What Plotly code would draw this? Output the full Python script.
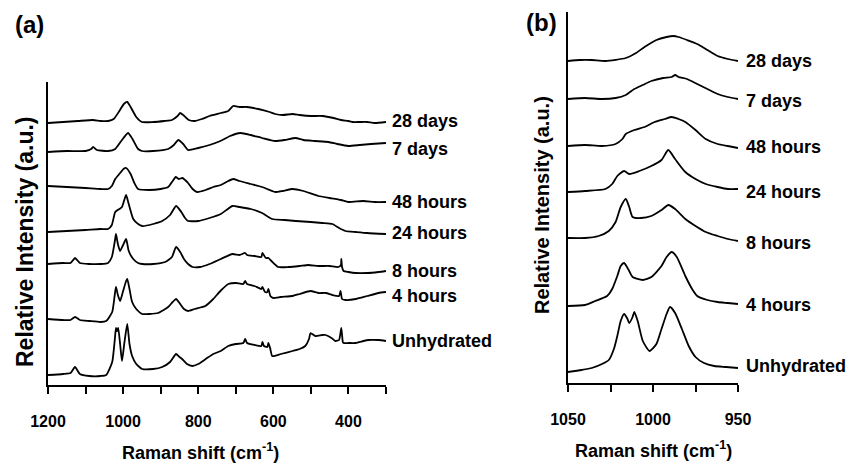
import plotly.graph_objects as go

# ---------------- Panel (a) : Raman shift 1200-300 cm-1 ----------------
a_28d_x = [1200, 1160, 1120, 1080, 1060, 1040, 1025, 1010, 998, 989, 980, 965, 950, 920, 890, 870, 855, 848, 840, 825, 810, 790, 770, 740, 720, 707, 690, 670, 640, 610, 595, 575, 549, 530, 500, 469, 440, 420, 400, 389, 370, 350, 330, 300]
a_28d_y = [262, 263, 264, 265, 264, 264, 266, 274, 281, 283, 278, 268, 263, 263, 264, 265, 269, 272, 270, 265, 264, 266, 269, 272, 274, 279, 278, 278, 276, 273, 271, 270, 271, 270, 269, 269, 267, 265, 264, 263, 263, 263, 262, 263]

a_7d_x = [1200, 1150, 1100, 1085, 1080, 1070, 1040, 1021, 1005, 987, 975, 960, 950, 920, 880, 865, 853, 840, 827, 800, 770, 741, 715, 688, 660, 630, 595, 570, 541, 520, 490, 453, 430, 400, 370, 340, 300]
a_7d_y = [233, 234, 234, 236, 238, 235, 234, 236, 244, 252, 246, 236, 234, 234, 236, 240, 245, 241, 235, 237, 240, 244, 249, 252, 250, 247, 244, 245, 247, 245, 244, 243, 241, 239, 240, 241, 242]

a_48h_x = [1200, 1150, 1100, 1060, 1040, 1030, 1021, 1010, 999, 992, 980, 970, 960, 930, 900, 880, 868, 860, 852, 842, 835, 827, 815, 803, 780, 760, 740, 720, 707, 690, 660, 630, 595, 575, 549, 520, 480, 450, 420, 400, 360, 330, 300]
a_48h_y = [199, 198, 197, 196, 196, 199, 206, 211, 216, 217, 211, 202, 196, 195, 196, 198, 204, 208, 206, 207, 205, 202, 196, 193, 195, 198, 200, 204, 206, 204, 201, 198, 193, 194, 196, 194, 189, 187, 185, 183, 184, 183, 183]

a_24h_x = [1200, 1150, 1100, 1060, 1040, 1030, 1021, 1010, 1003, 996, 992, 985, 973, 960, 949, 920, 896, 875, 859, 845, 835, 827, 800, 770, 740, 725, 709, 690, 660, 630, 603, 570, 540, 500, 470, 443, 425, 408, 380, 350, 300]
a_24h_y = [153, 154, 155, 156, 156, 160, 173, 176, 178, 186, 190, 181, 166, 161, 159, 161, 164, 170, 179, 173, 167, 164, 164, 167, 171, 175, 179, 178, 176, 172, 166, 165, 164, 163, 162, 161, 157, 154, 153, 152, 151]

a_8h_x = [1200, 1160, 1140, 1128, 1115, 1090, 1060, 1040, 1030, 1022, 1019, 1014, 1008, 1000, 992, 985, 973, 960, 949, 920, 888, 870, 859, 848, 838, 827, 815, 795, 770, 740, 709, 690, 675, 670, 650, 632, 629, 620, 613, 605, 587, 560, 530, 507, 480, 450, 427, 420, 419, 417, 413, 400, 381, 350, 320, 300]
a_8h_y = [121, 122, 122, 127, 122, 121, 121, 122, 128, 144, 151, 141, 134, 140, 146, 134, 126, 122, 121, 121, 123, 128, 138, 133, 126, 121, 118, 118, 121, 126, 131, 130, 132, 130, 129, 128, 132, 127, 127, 124, 118, 118, 119, 120, 119, 119, 118, 120, 126, 118, 114, 113, 112, 112, 113, 114]

a_4h_x = [1200, 1160, 1140, 1128, 1115, 1090, 1060, 1045, 1029, 1022, 1019, 1014, 1008, 1000, 992, 989, 983, 976, 965, 949, 930, 907, 880, 868, 859, 848, 838, 827, 810, 781, 760, 741, 720, 700, 680, 675, 670, 650, 632, 629, 622, 616, 613, 608, 600, 580, 549, 530, 501, 480, 460, 443, 425, 421, 417, 408, 380, 350, 320, 300]
a_4h_y = [66, 65, 65, 68, 65, 64, 63, 64, 73, 91, 98, 90, 84, 94, 104, 106, 96, 83, 76, 71, 71, 72, 78, 83, 86, 81, 76, 74, 76, 79, 86, 94, 101, 102, 101, 104, 101, 99, 96, 98, 93, 93, 96, 89, 87, 88, 89, 91, 94, 92, 92, 90, 89, 94, 86, 85, 86, 89, 92, 93]

a_un_x = [1200, 1160, 1140, 1128, 1115, 1090, 1060, 1045, 1029, 1022, 1019, 1016, 1013, 1008, 1003, 997, 989, 983, 976, 965, 949, 920, 896, 875, 859, 850, 843, 830, 816, 800, 780, 760, 740, 720, 700, 680, 675, 670, 650, 632, 629, 625, 616, 613, 608, 603, 580, 549, 530, 515, 505, 501, 488, 470, 461, 445, 435, 425, 419, 415, 413, 400, 381, 360, 347, 320, 300]
a_un_y = [10, 11, 12, 18, 11, 9, 9, 10, 23, 46, 57, 54, 57, 41, 24, 41, 61, 41, 29, 21, 16, 16, 18, 23, 31, 28, 26, 21, 19, 21, 26, 31, 34, 39, 41, 42, 46, 42, 40, 39, 43, 39, 38, 42, 36, 29, 31, 34, 36, 39, 46, 52, 49, 50, 50, 47, 44, 45, 57, 43, 42, 42, 42, 44, 45, 45, 44]

# ---------------- Panel (b) : Raman shift 1050-950 cm-1 ----------------
b_28d_x = [1050, 1043, 1036, 1028, 1016, 1010, 1005, 998, 992, 988, 985, 980, 974, 968, 962, 956, 950]
b_28d_y = [322, 323, 323, 322, 325, 330, 336, 343, 346, 347, 346, 343, 339, 333, 327, 324, 322]

b_7d_x = [1050, 1040, 1030, 1022, 1016, 1011, 1006, 1001, 994, 989, 987, 985, 980, 974, 968, 962, 956, 950]
b_7d_y = [284, 285, 284, 285, 288, 294, 298, 302, 305, 306, 308, 306, 304, 299, 294, 289, 286, 284]

b_48h_x = [1050, 1040, 1030, 1022, 1018, 1016, 1011, 1005, 999, 993, 989, 985, 981, 975, 969, 962, 956, 950]
b_48h_y = [237, 238, 237, 239, 244, 249, 253, 256, 261, 264, 266, 264, 261, 253, 244, 239, 237, 235]

b_24h_x = [1050, 1040, 1028, 1024, 1021, 1017, 1014, 1008, 1001, 995, 991, 987, 981, 975, 969, 962, 956, 950]
b_24h_y = [191, 192, 194, 199, 207, 212, 209, 212, 217, 223, 233, 224, 211, 204, 199, 196, 194, 194]

b_8h_x = [1050, 1040, 1032, 1026, 1022, 1019, 1016, 1014, 1012, 1007, 1001, 995, 991, 987, 981, 975, 969, 962, 956, 950]
b_8h_y = [145, 145, 147, 152, 161, 176, 184, 176, 166, 165, 167, 173, 178, 174, 164, 157, 151, 147, 144, 142]

b_4h_x = [1050, 1040, 1034, 1027, 1024, 1021, 1019, 1017, 1014, 1012, 1006, 1001, 995, 992, 989, 986, 981, 977, 974, 968, 962, 956, 950]
b_4h_y = [77, 78, 82, 87, 94, 107, 117, 120, 112, 106, 103, 106, 117, 126, 131, 126, 107, 94, 87, 83, 81, 80, 79]

b_un_x = [1050, 1042, 1036, 1030, 1026, 1023, 1021, 1019, 1017, 1015, 1014, 1012, 1011, 1009, 1006, 1002, 998, 995, 992, 990, 987, 983, 979, 975, 970, 964, 957, 950]
b_un_y = [11, 13, 15, 19, 23, 34, 47, 62, 69, 64, 60, 66, 71, 62, 42, 32, 39, 54, 69, 76, 70, 54, 37, 26, 20, 17, 16, 15]

labels = ["28 days", "7 days", "48 hours", "24 hours", "8 hours", "4 hours", "Unhydrated"]
a_series = [(a_28d_x, a_28d_y), (a_7d_x, a_7d_y), (a_48h_x, a_48h_y), (a_24h_x, a_24h_y),
            (a_8h_x, a_8h_y), (a_4h_x, a_4h_y), (a_un_x, a_un_y)]
b_series = [(b_28d_x, b_28d_y), (b_7d_x, b_7d_y), (b_48h_x, b_48h_y), (b_24h_x, b_24h_y),
            (b_8h_x, b_8h_y), (b_4h_x, b_4h_y), (b_un_x, b_un_y)]
# label vertical positions (a.u., same scale as each panel's y axis)
a_label_y = [264, 236, 183, 152, 114, 89, 44]
b_label_y = [322, 282, 236, 191, 140, 78, 17]

a_major = [1200, 1000, 800, 600, 400]
a_minor = [1100, 900, 700, 500, 300]
b_major = [1050, 1000, 950]
b_minor = [1025, 975]

W, H = 856, 463
OX, OY = 8, 9          # page offset of the plot div inside the browser window
FONT = "Liberation Sans, Arial, sans-serif"

def px(x):
    return (x - OX) / W

def py(y):
    return 1 - (y - OY) / H

fig = go.Figure()
for (x, y) in a_series:
    fig.add_trace(go.Scatter(x=x, y=y, mode="lines", xaxis="x", yaxis="y",
                             line=dict(color="black", width=1.8, shape="spline", smoothing=0.5),
                             showlegend=False, hoverinfo="skip"))
for (x, y) in b_series:
    fig.add_trace(go.Scatter(x=x, y=y, mode="lines", xaxis="x2", yaxis="y2",
                             line=dict(color="black", width=1.8, shape="spline", smoothing=0.6),
                             showlegend=False, hoverinfo="skip"))

tickfont = dict(family=FONT, size=16, color="black", weight="bold")
common_x = dict(showline=True, linewidth=2, linecolor="black", ticks="outside", ticklen=7,
                tickwidth=1.5, tickcolor="black", showgrid=False, zeroline=False,
                tickfont=tickfont, ticklabelstandoff=14, automargin=False, tickmode="array")
common_y = dict(showline=True, linewidth=2, linecolor="black", ticks="", showticklabels=False,
                showgrid=False, zeroline=False, automargin=False)
minor_style = dict(ticks="outside", ticklen=7, tickwidth=1.5, tickcolor="black", showgrid=False)

fig.update_layout(
    width=W, height=H, margin=dict(l=0, r=0, t=0, b=0, autoexpand=False),
    paper_bgcolor="white", plot_bgcolor="white",
    xaxis=dict(domain=[px(48), px(386)], range=[1200, 300], anchor="y",
               tickvals=a_major, ticktext=[str(v) for v in a_major],
               minor=dict(tickmode="array", tickvals=a_minor, **minor_style), **common_x),
    yaxis=dict(domain=[py(386), py(83)], range=[0, 303], anchor="x", **common_y),
    xaxis2=dict(domain=[px(568), px(738)], range=[1050, 950], anchor="y2",
                tickvals=b_major, ticktext=[str(v) for v in b_major],
                minor=dict(tickmode="array", tickvals=b_minor, **minor_style), **common_x),
    yaxis2=dict(domain=[py(384), py(13)], range=[0, 371], anchor="x2", **common_y),
)

ann = []
for lab, yv in zip(labels, a_label_y):
    ann.append(dict(x=px(390), y=yv, xref="paper", yref="y", text=lab, showarrow=False,
                    xanchor="left", yanchor="middle",
                    font=dict(family=FONT, size=18, color="black", weight="bold")))
for lab, yv in zip(labels, b_label_y):
    ann.append(dict(x=px(744), y=yv, xref="paper", yref="y2", text=lab, showarrow=False,
                    xanchor="left", yanchor="middle",
                    font=dict(family=FONT, size=18, color="black", weight="bold")))

ann += [
    dict(x=px(29), y=py(26), xref="paper", yref="paper", text="(a)", showarrow=False,
         xanchor="center", yanchor="middle", font=dict(family=FONT, size=24, color="black", weight="bold")),
    dict(x=px(541), y=py(24), xref="paper", yref="paper", text="(b)", showarrow=False,
         xanchor="center", yanchor="middle", font=dict(family=FONT, size=24, color="black", weight="bold")),
    dict(x=px(200), y=py(452), xref="paper", yref="paper", text="Raman shift (cm<sup>-1</sup>)",
         showarrow=False, xanchor="center", yanchor="middle",
         font=dict(family=FONT, size=18, color="black", weight="bold")),
    dict(x=px(653), y=py(450), xref="paper", yref="paper", text="Raman shift (cm<sup>-1</sup>)",
         showarrow=False, xanchor="center", yanchor="middle",
         font=dict(family=FONT, size=18, color="black", weight="bold")),
    dict(x=px(25), y=py(243), xref="paper", yref="paper", text="Relative Intensity (a.u.)",
         showarrow=False, xanchor="center", yanchor="middle", textangle=-90,
         font=dict(family=FONT, size=23, color="black", weight="bold")),
    dict(x=px(542), y=py(206), xref="paper", yref="paper", text="Relative Intensity (a.u.)",
         showarrow=False, xanchor="center", yanchor="middle", textangle=-90,
         font=dict(family=FONT, size=20, color="black", weight="bold")),
]
fig.update_layout(annotations=ann)

fig.write_html("out.html")
